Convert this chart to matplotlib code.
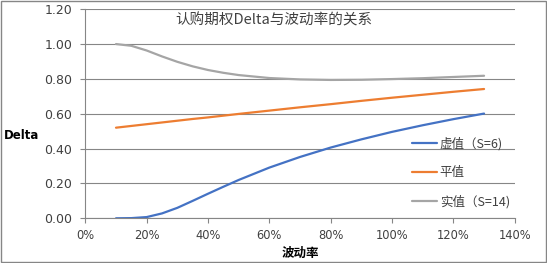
import matplotlib
matplotlib.use("Agg")
import matplotlib.pyplot as plt
from matplotlib.patches import Rectangle

plt.rcParams['font.family'] = ['Noto Sans CJK SC', 'DejaVu Sans']

vol = [10, 15, 20, 25, 30, 35, 40, 45, 50, 60, 70, 80, 90, 100, 110, 120, 130]
otm = [0.000, 0.001, 0.007, 0.028, 0.060, 0.100, 0.141, 0.181, 0.220, 0.291, 0.352,
       0.406, 0.453, 0.496, 0.534, 0.569, 0.601]
atm = [0.520, 0.530, 0.540, 0.550, 0.560, 0.570, 0.579, 0.589, 0.599, 0.618, 0.637,
       0.655, 0.674, 0.692, 0.709, 0.726, 0.742]
itm = [1.000, 0.990, 0.963, 0.929, 0.898, 0.872, 0.851, 0.835, 0.822, 0.805, 0.797,
       0.794, 0.795, 0.799, 0.804, 0.811, 0.818]
labels = ['虚值（S=6)', '平值', '实值（S=14)']
colors = ['#4472C4', '#ED7D31', '#A5A5A5']
title = '认购期权Delta与波动率的关系'
xticks = [0, 20, 40, 60, 80, 100, 120, 140]
yticks = [0.0, 0.2, 0.4, 0.6, 0.8, 1.0, 1.2]

fig = plt.figure(figsize=(5.47, 2.63), dpi=100)
ax = fig.add_axes([0.156, 0.170, 0.785, 0.795])

for ys, lab, c in zip([otm, atm, itm], labels, colors):
    ax.plot(vol, ys, color=c, lw=1.6, label=lab, solid_capstyle='round')

ax.set_xlim(0, 140)
ax.set_ylim(0, 1.2)
ax.set_xticks(xticks)
ax.set_xticklabels([f'{t}%' for t in xticks], fontsize=8.3, family=['DejaVu Sans'])
ax.set_yticks(yticks)
ax.set_yticklabels([f'{t:.2f}' for t in yticks], fontsize=9, family=['DejaVu Sans'])
ax.grid(axis='y', color='#868686', lw=0.8)
ax.set_axisbelow(True)
for s in ['top', 'right']:
    ax.spines[s].set_visible(False)
for s in ['left', 'bottom']:
    ax.spines[s].set_color('#868686')
    ax.spines[s].set_linewidth(0.8)
ax.tick_params(axis='both', direction='out', length=3.5, color='#868686', width=0.8,
               colors='#404040')
ax.tick_params(axis='y', pad=6)
ax.tick_params(axis='x', pad=4)

ax.text(0.439, 0.945, title, transform=ax.transAxes, ha='center', va='center',
        fontsize=10.5, color='#404040')

ax.set_xlabel('波动率', fontsize=9, fontweight='bold', labelpad=4)
fig.text(0.007, 0.483, 'Delta', fontsize=8.5, fontweight='bold', ha='left', va='center',
         family=['DejaVu Sans'])

leg = ax.legend(loc='lower right', bbox_to_anchor=(1.015, -0.005), frameon=False,
                fontsize=9, handlelength=2.0, labelspacing=1.25, handletextpad=0.25,
                labelcolor='#404040')

fig.patches.append(Rectangle((0.001, 0.002), 0.997, 0.995, transform=fig.transFigure,
                             fill=False, edgecolor='#868686', lw=1))

fig.savefig('out.png', dpi=100)
